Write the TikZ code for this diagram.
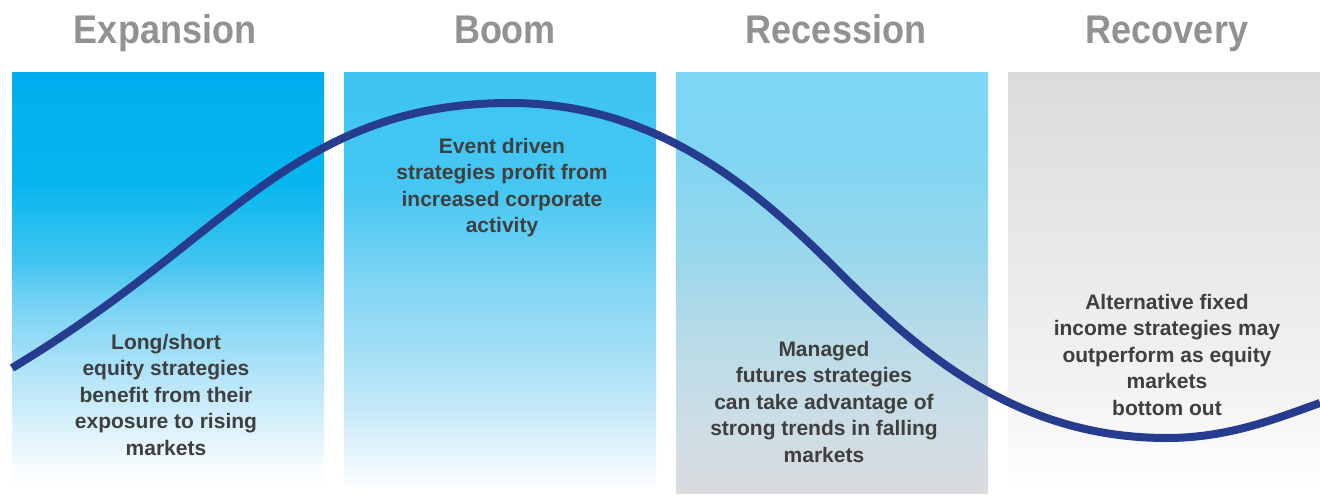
\documentclass[tikz,border=0pt]{standalone}
\usepackage{fontspec}
\setmainfont{Liberation Sans}
\newfontfamily\titlefont[FakeStretch=0.9]{Liberation Sans}
\definecolor{titlegray}{HTML}{929292}
\definecolor{bodytext}{HTML}{3F3F3F}
\definecolor{curveblue}{HTML}{263D8F}
% panel 1
\definecolor{aA}{HTML}{00AEEF}\definecolor{aB}{HTML}{05B6EE}\definecolor{aC}{HTML}{45C5F1}
\definecolor{aD}{HTML}{7AD3F4}\definecolor{aE}{HTML}{B8E6F9}\definecolor{aF}{HTML}{E4F5FC}
\definecolor{aG}{HTML}{FAFDFF}
% panel 2
\definecolor{bA}{HTML}{3EC3F1}\definecolor{bB}{HTML}{45C7F2}\definecolor{bC}{HTML}{7FD5F4}
\definecolor{bD}{HTML}{B4E3F7}\definecolor{bE}{HTML}{DCF1FB}\definecolor{bF}{HTML}{F8FCFE}
% panel 3
\definecolor{cA}{HTML}{7ED7F4}\definecolor{cB}{HTML}{7FD6F3}\definecolor{cC}{HTML}{98D7EC}
\definecolor{cD}{HTML}{B6DBE8}\definecolor{cE}{HTML}{CCDDE5}\definecolor{cF}{HTML}{DADCDF}
% panel 4
\definecolor{dA}{HTML}{DBDBDC}\definecolor{dB}{HTML}{E8E8E9}\definecolor{dC}{HTML}{F2F2F3}
\definecolor{dD}{HTML}{FCFCFC}
\pgfdeclareverticalshading{shA}{100bp}{color(0bp)=(white); color(25bp)=(white); color(27bp)=(aG); color(31bp)=(aF); color(38bp)=(aE); color(47bp)=(aD); color(52bp)=(aC); color(62bp)=(aB); color(75bp)=(aA); color(100bp)=(aA)}
\pgfdeclareverticalshading{shB}{100bp}{color(0bp)=(white); color(25bp)=(white); color(26bp)=(bF); color(31bp)=(bE); color(38bp)=(bD); color(50bp)=(bC); color(61bp)=(bB); color(75bp)=(bA); color(100bp)=(bA)}
\pgfdeclareverticalshading{shC}{100bp}{color(0bp)=(cF); color(25bp)=(cF); color(33.7bp)=(cE); color(44.4bp)=(cD); color(53.9bp)=(cC); color(65.8bp)=(cB); color(75bp)=(cA); color(100bp)=(cA)}
\pgfdeclareverticalshading{shD}{100bp}{color(0bp)=(white); color(25bp)=(white); color(28bp)=(dD); color(38bp)=(dC); color(55bp)=(dB); color(75bp)=(dA); color(100bp)=(dA)}
\begin{document}
\begin{tikzpicture}[x=1pt,y=-1pt,
  panel/.style={draw=none, inner sep=0pt, minimum width=312pt, minimum height=417pt},
  phase/.style={font=\titlefont\bfseries\fontsize{40}{44}\selectfont, text=titlegray, inner sep=0pt, anchor=base},
  body/.style={font=\bfseries\fontsize{21}{26.6}\selectfont, text=bodytext, align=center, inner sep=0pt, anchor=north},
  curve/.style={draw=curveblue, line width=8pt}
]
\useasboundingbox (0,0) rectangle (1320,500);
\fill[white] (0,0) rectangle (1320,500);
% panels
\node[panel, shading=shA] (p1) at (168,281.5) {};
\node[panel, shading=shB] (p2) at (500,281.5) {};
\node[panel, shading=shC, minimum height=420pt] (p3) at (832,283) {};
\node[panel, shading=shD] (p4) at (1164,281.5) {};
% titles
\node[phase] (h1) at (165,44) {Expansion};
\node[phase] (h2) at (505,44) {Boom};
\node[phase] (h3) at (836,44) {Recession};
\node[phase] (h4) at (1167,44) {Recovery};
% cycle curve
\coordinate (c0) at (12,368);
\coordinate (c1) at (160,265);
\coordinate (c2) at (510,103);
\coordinate (c3) at (840,273);
\coordinate (c4) at (1167,438);
\coordinate (c5) at (1320,403);
\draw[curve] (c0) .. controls (62,338) and (110,304) .. (c1)
  .. controls (270,179) and (350,103) .. (c2)
  .. controls (660,103) and (760,193) .. (c3)
  .. controls (920,353) and (1017,438) .. (c4)
  .. controls (1230,438) and (1280,417) .. (c5);
% texts
\node[body] (t1) at (166,333.7) {Long/short\\equity strategies\\benefit from their\\exposure to rising\\markets};
\node[body] (t2) at (502,137.7) {Event driven\\strategies profit from\\increased corporate\\activity};
\node[body] (t3) at (824,340.7) {Managed\\futures strategies\\can take advantage of\\strong trends in falling\\markets};
\node[body] (t4) at (1167,293.7) {Alternative fixed\\income strategies may\\outperform as equity\\markets\\bottom out};
\end{tikzpicture}
\end{document}
